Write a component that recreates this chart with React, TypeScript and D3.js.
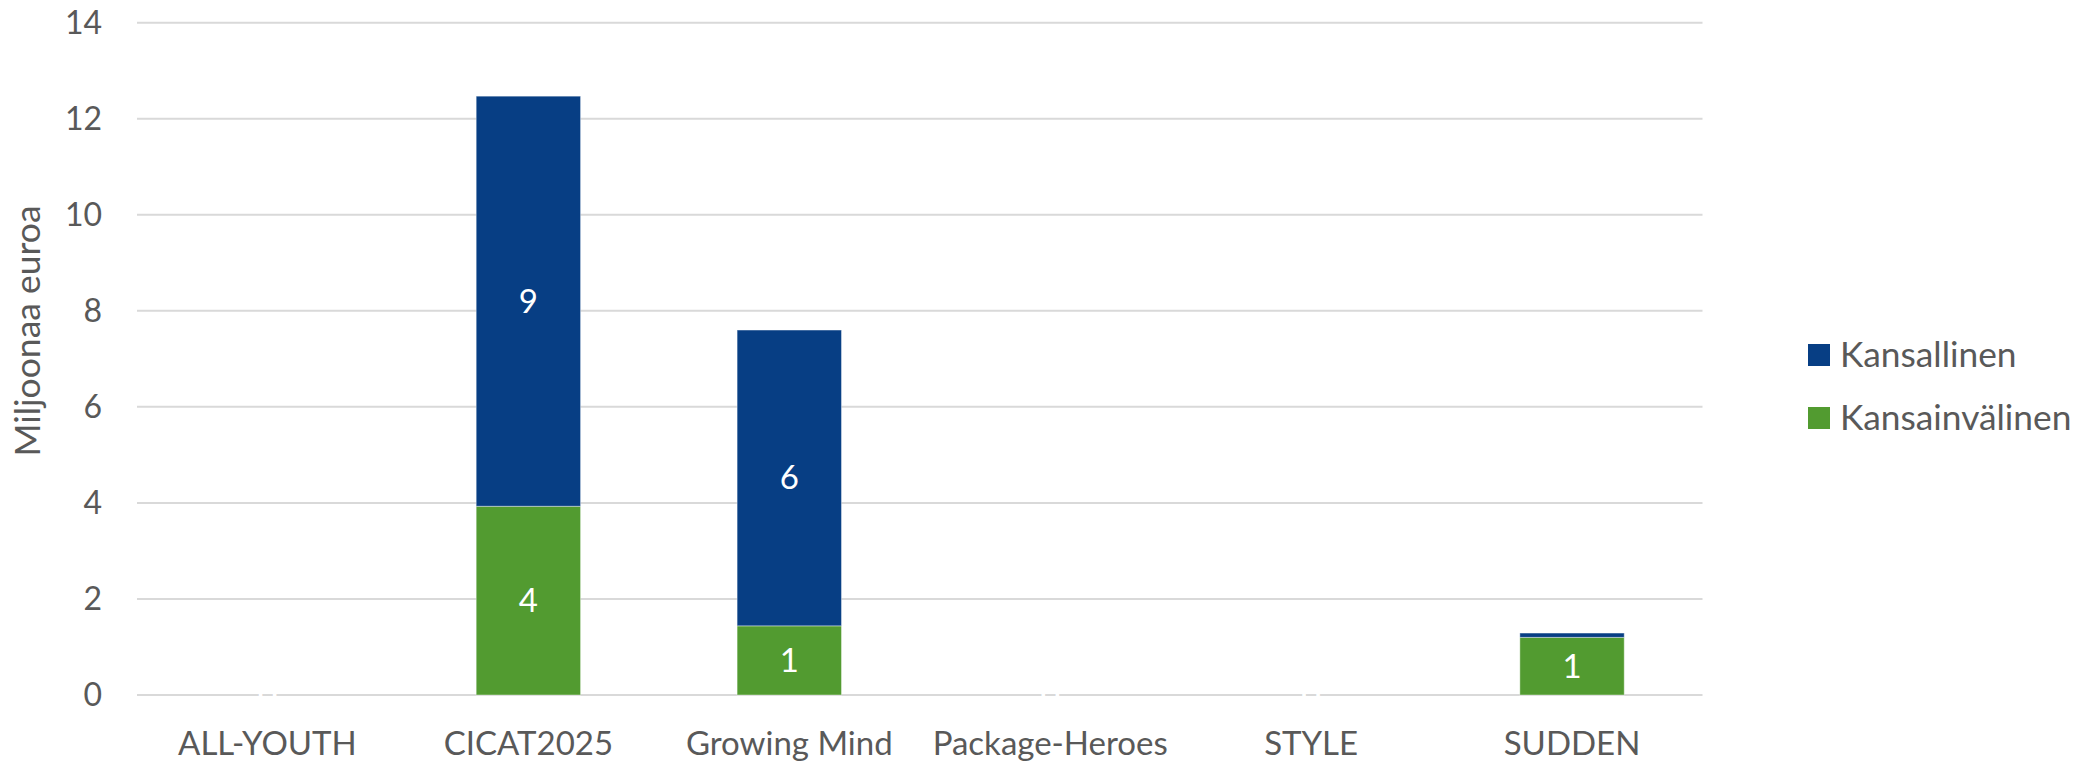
import React from "react";
import * as d3 from "d3";

const categories = ["ALL-YOUTH", "CICAT2025", "Growing Mind", "Package-Heroes", "STYLE", "SUDDEN"];
const kansainvalinen = [0, 3.93, 1.44, 0, 0, 1.2];
const kansallinen = [0, 8.54, 6.16, 0, 0, 0.09];
const yTicks = [0, 2, 4, 6, 8, 10, 12, 14];
const seriesNames = ["Kansallinen", "Kansainvälinen"];
const seriesColors = ["#073E84", "#529B30"];

const W = 2092;
const H = 766;
const FONT = "Lato, 'Open Sans', sans-serif";
const TEXT = "#595959";

export default function App() {
  const x = d3.scaleBand<string>().domain(categories).range([137, 1702.5]).paddingInner(0.6).paddingOuter(0.3);
  const y = d3.scaleLinear().domain([0, 14]).range([695, 22.7]);

  const rows = categories.map((c, i) => ({ cat: c, Kansainvälinen: kansainvalinen[i], Kansallinen: kansallinen[i] }));
  const stack = d3.stack<any>().keys(["Kansainvälinen", "Kansallinen"])(rows);
  const color = (k: string) => (k === "Kansallinen" ? seriesColors[0] : seriesColors[1]);
  const fmt = d3.format(".0f");

  return (
    <div style={{ position: "fixed", left: 0, top: 0 }}>
      <svg width={W} height={H} style={{ display: "block", background: "#fff" }} fontFamily={FONT}>
        {yTicks.map((t) => (
          <g key={t}>
            <line x1={137} x2={1702.5} y1={y(t)} y2={y(t)} stroke="#D9D9D9" strokeWidth={2} />
            <text x={102} y={y(t)} dy="0.35em" textAnchor="end" fontSize={32} fill={TEXT}>
              {t}
            </text>
          </g>
        ))}
        {stack.map((s) =>
          s.map((d, i) => {
            const x0 = x(categories[i])!;
            const h = y(d[0]) - y(d[1]);
            return (
              <rect
                key={s.key + i}
                x={x0}
                y={y(d[1])}
                width={x.bandwidth()}
                height={Math.max(0, h)}
                fill={color(s.key)}
                stroke="#ffffff"
                strokeOpacity={0.4}
                strokeWidth={1}
              />
            );
          })
        )}
        {stack.map((s) =>
          s.map((d, i) => {
            const v = d[1] - d[0];
            const h = y(d[0]) - y(d[1]);
            if (v !== 0 && h < 25) return null;
            return (
              <text
                key={"l" + s.key + i}
                x={x(categories[i])! + x.bandwidth() / 2}
                y={(y(d[0]) + y(d[1])) / 2}
                dy="0.35em"
                textAnchor="middle"
                fontSize={33}
                fill="#ffffff"
              >
                {fmt(v)}
              </text>
            );
          })
        )}
        {categories.map((c) => (
          <text key={c} x={x(c)! + x.bandwidth() / 2} y={755} textAnchor="middle" fontSize={33} fill={TEXT}>
            {c}
          </text>
        ))}
        <text
          transform={`translate(40,331) rotate(-90)`}
          textAnchor="middle"
          fontSize={35.5}
          fill={TEXT}
        >
          Miljoonaa euroa
        </text>
        {seriesNames.map((n, i) => (
          <g key={n} transform={`translate(1808, ${344 + i * 63})`}>
            <rect width={22} height={22} fill={seriesColors[i]} />
            <text x={32} y={11} dy="0.35em" fontSize={35.3} fill={TEXT}>
              {n}
            </text>
          </g>
        ))}
      </svg>
    </div>
  );
}
